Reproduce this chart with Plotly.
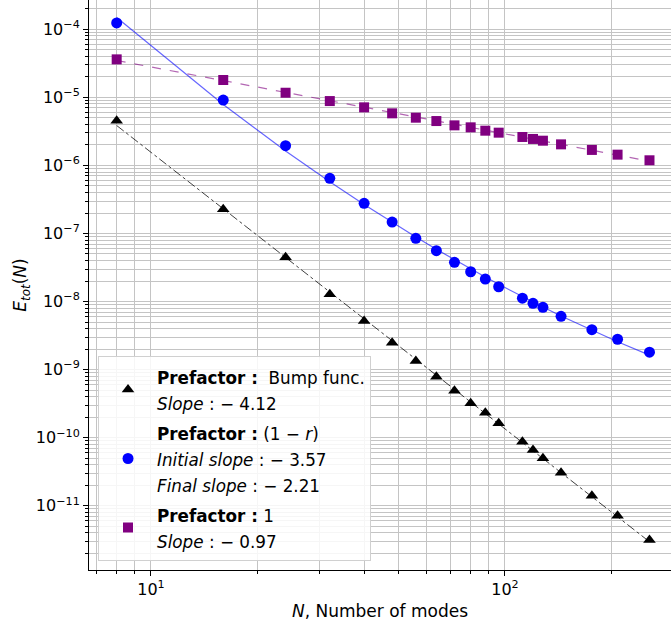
import numpy as np
import plotly.graph_objects as go

# ---- data ----
N = [8, 16, 24, 32, 40, 48, 56, 64, 72, 80, 88, 96, 112, 120, 128, 144, 176, 208, 256]

err_bump = [4.54e-6, 2.27e-7, 4.47e-8, 1.28e-8, 5.18e-9, 2.48e-9, 1.34e-9, 7.87e-10,
            4.9e-10, 3.2e-10, 2.33e-10, 1.63e-10, 8.73e-11, 6.59e-11, 4.98e-11,
            3.06e-11, 1.40e-11, 7.13e-12, 3.13e-12]

err_1mr = [1.24e-4, 9.14e-6, 1.95e-6, 6.47e-7, 2.77e-7, 1.47e-7, 8.49e-8, 5.58e-8,
           3.77e-8, 2.74e-8, 2.14e-8, 1.65e-8, 1.12e-8, 9.42e-9, 8.23e-9, 6.07e-9,
           3.86e-9, 2.79e-9, 1.80e-9]

err_one = [3.62e-5, 1.80e-5, 1.17e-5, 8.83e-6, 7.14e-6, 5.83e-6, 5.03e-6, 4.49e-6,
           3.88e-6, 3.63e-6, 3.24e-6, 3.03e-6, 2.62e-6, 2.45e-6, 2.31e-6, 2.04e-6,
           1.69e-6, 1.44e-6, 1.19e-6]

x_ticks = [10, 100]
x_ticktext = ["10<sup>1</sup>", "10<sup>2</sup>"]
y_exps = [-11, -10, -9, -8, -7, -6, -5, -4]

legend_bump = "<b>Prefactor :</b>  Bump func.<br><i>Slope</i> : − 4.12"
legend_1mr = "<b>Prefactor :</b> (1 − <i>r</i>)<br><i>Initial slope</i> : − 3.57<br><i>Final slope</i> : − 2.21"
legend_one = "<b>Prefactor :</b> 1<br><i>Slope</i> : − 0.97"


def fit_line(x, y, deg):
    lx, ly = np.log10(x), np.log10(y)
    c = np.polyfit(lx, ly, deg)
    return 10 ** np.polyval(c, lx)


def wrap(s):
    return '<span style="font-size:16.8px">' + s.replace("  ", "&nbsp; ") + '</span>'


FONT = "DejaVu Sans"
fig = go.Figure()

# fit lines
fig.add_trace(go.Scatter(x=N, y=fit_line(N, err_bump, 1), mode="lines",
                         line=dict(color="rgba(0,0,0,0.75)", width=1, dash="dashdot"),
                         showlegend=False, hoverinfo="skip"))
fig.add_trace(go.Scatter(x=N, y=fit_line(N, err_1mr, 2), mode="lines",
                         line=dict(color="rgba(0,0,255,0.6)", width=1.2),
                         showlegend=False, hoverinfo="skip"))
fig.add_trace(go.Scatter(x=N, y=fit_line(N, err_one, 1), mode="lines",
                         line=dict(color="rgba(128,0,128,0.6)", width=1.2, dash="dash"),
                         showlegend=False, hoverinfo="skip"))

# markers
fig.add_trace(go.Scatter(x=N, y=err_bump, mode="markers", name=wrap(legend_bump),
                         legendgroup="a",
                         marker=dict(symbol="triangle-up", size=11, color="black")))
fig.add_trace(go.Scatter(x=N, y=err_1mr, mode="markers", name=wrap(legend_1mr),
                         legendgroup="b",
                         marker=dict(symbol="circle", size=11, color="blue")))
fig.add_trace(go.Scatter(x=N, y=err_one, mode="markers", name=wrap(legend_one),
                         legendgroup="c",
                         marker=dict(symbol="square", size=10, color="purple")))

x_minor = [k * 10 ** e for e in range(0, 3) for k in range(2, 10)]
y_minor = [k * 10.0 ** e for e in range(-12, -3) for k in range(2, 10)]

grid_col = "#c4c4c4"
fig.update_xaxes(type="log", range=[0.8249, 2.469], automargin=False,
                 tickvals=x_ticks, ticktext=x_ticktext,
                 ticks="outside", ticklen=5, tickcolor="black",
                 showgrid=True, gridcolor=grid_col, gridwidth=1,
                 minor=dict(tickvals=x_minor, ticks="outside", ticklen=3,
                            tickcolor="black", showgrid=True, gridcolor=grid_col, gridwidth=1),
                 showline=True, linecolor="black", linewidth=1, zeroline=False,
                 tickfont=dict(family=FONT, size=16, color="black"),
                 title=dict(text="<i>N</i>, Number of modes",
                            font=dict(family=FONT, size=17, color="black"), standoff=6))
fig.update_yaxes(type="log", range=[-11.945, -3.569], automargin=False,
                 tickvals=[10.0 ** e for e in y_exps],
                 ticktext=["10<sup>−%d</sup>" % (-e) for e in y_exps],
                 ticks="outside", ticklen=5, tickcolor="black",
                 showgrid=True, gridcolor=grid_col, gridwidth=1,
                 minor=dict(tickvals=y_minor, ticks="outside", ticklen=3,
                            tickcolor="black", showgrid=True, gridcolor=grid_col, gridwidth=1),
                 showline=True, linecolor="black", linewidth=1, zeroline=False,
                 tickfont=dict(family=FONT, size=16, color="black"),
                 title=dict(text="<i>E</i><sub><i>tot</i></sub>(<i>N</i>)",
                            font=dict(family=FONT, size=17, color="black"), standoff=4))

fig.update_layout(
    width=671, height=630,
    margin=dict(l=89, r=0, t=0, b=60),
    plot_bgcolor="white", paper_bgcolor="white",
    font=dict(family=FONT, color="black"),
    legend=dict(x=0.0155, y=0.0158, xanchor="left", yanchor="bottom",
                bgcolor="rgba(255,255,255,0.85)", bordercolor="#d0d0d0", borderwidth=1,
                font=dict(family=FONT, size=20, color="black"),
                tracegroupgap=1, itemwidth=48),
)

fig.write_html("out.html", config={"displayModeBar": False},
               post_script="document.body.style.margin='0';document.body.style.overflow='hidden';")
